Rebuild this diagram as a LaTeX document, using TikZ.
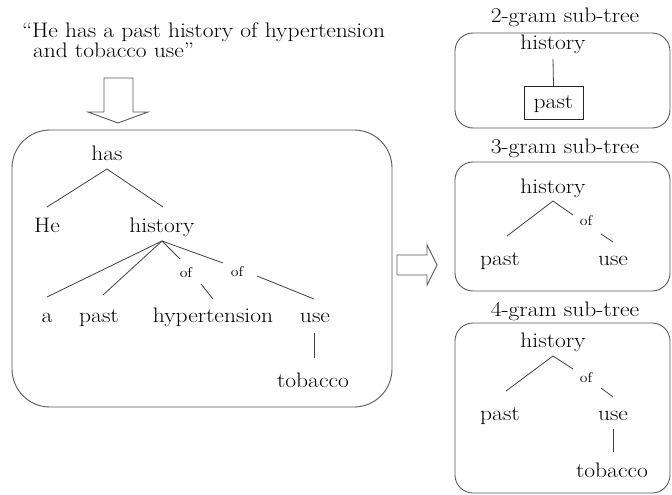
\documentclass[tikz,border=0pt]{standalone}
\usepackage{fontspec}
\setmainfont{Latin Modern Roman}[FakeStretch=1.12]
\begin{document}
\begin{tikzpicture}[x=1pt,y=-1pt,
  every node/.style={inner sep=0pt,outer sep=0pt,font=\fontsize{21}{24}\selectfont,anchor=base},
  lbl/.style={font=\fontsize{14}{16}\selectfont},
  edge/.style={draw=black!75,line width=0.8pt},
  panel/.style={draw=black!65,line width=0.9pt,rounded corners=#1},
  blockarrow/.style={draw=black!65,line width=0.9pt,fill=white}]
\useasboundingbox (0,0) rectangle (672,495);

% quote
\node[anchor=base west] (q1) at (22,38) {“He has a past history of hypertension};
\node[anchor=base west] (q2) at (33,58) {and tobacco use”};

% down arrow
\draw[blockarrow] (104,78) -- (133,78) -- (133,112) -- (148,112) -- (118,123) -- (88,112) -- (104,112) -- cycle;

% main box
\draw[panel=38] (12,130) rectangle (392,407);

% main tree
\node (has) at (107,160) {has};
\node (he) at (47,232) {He};
\node (hist) at (162,232) {history};
\node (a) at (47,322) {a};
\node (past) at (99,322) {past};
\node (hyp) at (213,322) {hypertension};
\node (use) at (315,322) {use};
\node (tob) at (313,387) {tobacco};
\node[lbl] (of1) at (186,277) {of};
\node[lbl] (of2) at (237,276) {of};

\coordinate (hasB) at (107,169);
\coordinate (heT) at (47,207);
\coordinate (histT) at (163,207);
\coordinate (histB) at (162,241);
\coordinate (aT) at (47,297);
\coordinate (pastT) at (103,295);
\coordinate (of1T) at (180,259);
\coordinate (of1B) at (201,284);
\coordinate (hypT) at (213,299);
\coordinate (of2T) at (223,263);
\coordinate (of2B) at (257,276);
\coordinate (useT) at (314,299);
\coordinate (useB) at (314,333);
\coordinate (tobT) at (314,358);

\draw[edge] (heT) -- (hasB) -- (histT);
\draw[edge] (histB) -- (aT);
\draw[edge] (histB) -- (pastT);
\draw[edge] (histB) -- (of1T);
\draw[edge] (of1B) -- (hypT);
\draw[edge] (histB) -- (of2T);
\draw[edge] (of2B) -- (useT);
\draw[edge] (useB) -- (tobT);

% right arrow
\draw[blockarrow] (397,255) -- (427,255) -- (427,245) -- (437,265) -- (427,285) -- (427,275) -- (397,275) -- cycle;

% 2-gram
\node (t2) at (565,23) {2-gram sub-tree};
\draw[panel=18] (455,33) rectangle (670,128);
\node (h2) at (553,50) {history};
\node[draw=black!85,line width=0.8pt,minimum width=59pt,minimum height=33pt,anchor=center,text depth=0pt] (p2) at (553.5,102.5) {past};
\coordinate (h2B) at (553,59);
\draw[edge] (h2B) -- (p2.north);

% 3-gram
\node (t3) at (565,153) {3-gram sub-tree};
\draw[panel=18] (455,162) rectangle (670,291);
\node (h3) at (553,193) {history};
\node (p3) at (500,265) {past};
\node (u3) at (613,265) {use};
\node[lbl] (of3) at (586,225) {of};
\coordinate (h3B) at (553,201);
\coordinate (p3T) at (507,236);
\coordinate (of3T) at (573,215);
\coordinate (of3B) at (601,234);
\coordinate (u3T) at (613,242);
\draw[edge] (p3T) -- (h3B) -- (of3T);
\draw[edge] (of3B) -- (u3T);

% 4-gram
\node (t4) at (565,316) {4-gram sub-tree};
\draw[panel=18] (455,323) rectangle (670,493);
\node (h4) at (553,347) {history};
\node (p4) at (500,420) {past};
\node (u4) at (613,420) {use};
\node (tb4) at (612,477) {tobacco};
\node[lbl] (of4) at (586,382) {of};
\coordinate (h4B) at (553,356);
\coordinate (p4T) at (506,391);
\coordinate (of4T) at (573,369);
\coordinate (of4B) at (601,388);
\coordinate (u4T) at (613,397);
\coordinate (u4B) at (613,429);
\coordinate (tb4T) at (613,452);
\draw[edge] (p4T) -- (h4B) -- (of4T);
\draw[edge] (of4B) -- (u4T);
\draw[edge] (u4B) -- (tb4T);
\end{tikzpicture}
\end{document}
